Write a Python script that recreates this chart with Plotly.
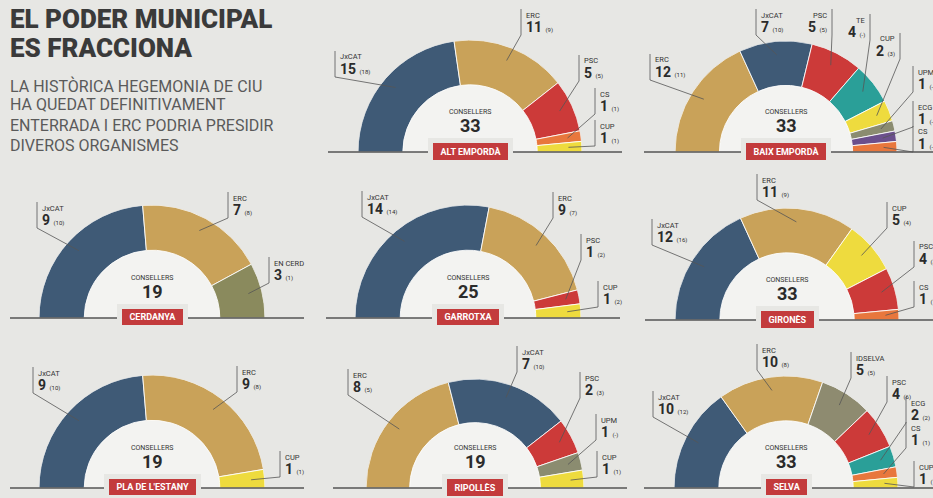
import numpy as np
import plotly.graph_objects as go

W, H = 933, 498

# ---------------- data ----------------
counties = ["ALT EMPORDÀ", "BAIX EMPORDÀ", "CERDANYA", "GARROTXA",
            "GIRONÈS", "PLA DE L'ESTANY", "RIPOLLÈS", "SELVA"]

alt_emporda_parties = ["JxCAT", "ERC", "PSC", "CS", "CUP"]
alt_emporda_seats = [15, 11, 5, 1, 1]
alt_emporda_prev = ["18", "9", "5", "1", "1"]

baix_emporda_parties = ["ERC", "JxCAT", "PSC", "TE", "CUP", "UPM", "ECG", "CS"]
baix_emporda_seats = [12, 7, 5, 4, 2, 1, 1, 1]
baix_emporda_prev = ["11", "10", "5", "-", "3", "-", "-", "-"]

cerdanya_parties = ["JxCAT", "ERC", "EN CERD"]
cerdanya_seats = [9, 7, 3]
cerdanya_prev = ["10", "8", "1"]

garrotxa_parties = ["JxCAT", "ERC", "PSC", "CUP"]
garrotxa_seats = [14, 9, 1, 1]
garrotxa_prev = ["14", "7", "2", "2"]

girones_parties = ["JxCAT", "ERC", "CUP", "PSC", "CS"]
girones_seats = [12, 11, 5, 4, 1]
girones_prev = ["16", "9", "4", "3", "1"]

pla_estany_parties = ["JxCAT", "ERC", "CUP"]
pla_estany_seats = [9, 9, 1]
pla_estany_prev = ["10", "8", "1"]

ripolles_parties = ["ERC", "JxCAT", "PSC", "UPM", "CUP"]
ripolles_seats = [8, 7, 2, 1, 1]
ripolles_prev = ["5", "10", "3", "-", "1"]

selva_parties = ["JxCAT", "ERC", "IDSELVA", "PSC", "ECG", "CS", "CUP"]
selva_seats = [10, 10, 5, 4, 2, 1, 1]
selva_prev = ["12", "8", "5", "6", "2", "1", "1"]

county_parties = [alt_emporda_parties, baix_emporda_parties, cerdanya_parties,
                  garrotxa_parties, girones_parties, pla_estany_parties,
                  ripolles_parties, selva_parties]
county_seats = [alt_emporda_seats, baix_emporda_seats, cerdanya_seats,
                garrotxa_seats, girones_seats, pla_estany_seats,
                ripolles_seats, selva_seats]
county_prev = [alt_emporda_prev, baix_emporda_prev, cerdanya_prev,
               garrotxa_prev, girones_prev, pla_estany_prev,
               ripolles_prev, selva_prev]

# ---------------- style ----------------
party_colors = {
    "JxCAT": "#3f5a76", "ERC": "#c9a259", "PSC": "#cc3a39", "CS": "#e8773d",
    "CUP": "#eedb3e", "TE": "#2a9f98", "UPM": "#8b8c70", "ECG": "#2a9f98",
    "EN CERD": "#8a8a5d", "IDSELVA": "#8e8b70",
}
color_overrides = {("BAIX EMPORDÀ", "ECG"): "#6b4f8c"}

BG = "#e7e7e4"
HOLE_BG = "#f3f3f1"
HOLE = 0.6
LINE_C = "#555555"
TXT_C = "#333333"
FONT = "Roboto"

# layout of each chart: centre x, baseline y, outer radius (pixels)
chart_cx = [470, 786, 152, 468, 787, 152, 475, 786]
chart_by = [152, 152, 318, 318, 320, 488, 488, 488]
chart_r = [112, 111, 113, 113, 112, 113, 109, 112]

# label placements (bracket x, name y, side) per party
label_pos = [
    [(335, 57, "L"), (521, 15, "L"), (579, 61, "L"), (595, 94, "L"), (595, 126, "L")],
    [(650, 60, "L"), (756, 15, "L"), (832, 15, "R"), (870, 20, "R"), (900, 39, "R"),
     (913, 72, "L"), (913, 107, "L"), (913, 132, "L")],
    [(37, 208, "L"), (228, 198, "L"), (269, 263, "L")],
    [(362, 197, "L"), (553, 198, "L"), (581, 240, "L"), (598, 287, "L")],
    [(652, 225, "L"), (757, 180, "L"), (887, 208, "L"), (914, 247, "L"), (914, 287, "L")],
    [(33, 373, "L"), (237, 372, "L"), (280, 457, "L")],
    [(348, 375, "L"), (517, 352, "L"), (580, 378, "L"), (596, 420, "L"), (597, 457, "L")],
    [(653, 397, "L"), (757, 350, "L"), (851, 358, "L"), (887, 382, "L"),
     (906, 403, "L"), (906, 428, "L"), (914, 467, "L")],
]


def px(x):
    return x / W


def py(y):
    return 1 - y / H


fig = go.Figure()
shapes = []
annotations = []

for i, county in enumerate(counties):
    parties = county_parties[i]
    seats = np.array(county_seats[i], dtype=float)
    prev = county_prev[i]
    cx, by, R = chart_cx[i], chart_by[i], chart_r[i]
    total = seats.sum()
    start = np.concatenate([[0], np.cumsum(seats)[:-1]])
    theta = (start + seats / 2) * 180.0 / total
    width = seats * 180.0 / total
    colors = [color_overrides.get((county, p), party_colors[p]) for p in parties]
    sub = "polar" if i == 0 else f"polar{i + 1}"

    fig.add_trace(go.Barpolar(
        theta=[90], r=[HOLE], base=[0], width=[180], subplot=sub,
        marker=dict(color=HOLE_BG, line=dict(width=0)),
        hoverinfo="skip", showlegend=False))
    fig.add_trace(go.Barpolar(
        theta=theta, r=[1 - HOLE] * len(seats), base=[HOLE] * len(seats),
        width=width, subplot=sub, text=parties,
        marker=dict(color=colors, line=dict(color="rgba(255,255,255,0.85)", width=1)),
        hovertemplate="%{text}: %{customdata}<extra></extra>",
        customdata=county_seats[i], showlegend=False))

    fig.update_layout({sub: dict(
        domain=dict(x=[px(cx - R), px(cx + R)], y=[py(by), py(by - R)]),
        sector=[0, 180], hole=0, bgcolor="rgba(0,0,0,0)", bargap=0,
        radialaxis=dict(visible=False, range=[0, 1]),
        angularaxis=dict(visible=False, direction="clockwise", rotation=180,
                         thetaunit="degrees"),
    )})

    # baseline
    shapes.append(dict(type="line", xref="paper", yref="paper",
                       x0=px(cx - 142), x1=px(min(cx + 152, W + 5)),
                       y0=py(by), y1=py(by), line=dict(color=LINE_C, width=1.5)))

    # centre texts
    annotations.append(dict(x=px(cx), y=py(by - 40), xref="paper", yref="paper",
                            xanchor="center", yanchor="middle",
                            text="CONSELLERS", showarrow=False,
                            font=dict(family=FONT, size=7, color=TXT_C)))
    annotations.append(dict(x=px(cx), y=py(by - 27), xref="paper", yref="paper",
                            xanchor="center", yanchor="middle",
                            text=f"<b>{int(total)}</b>", showarrow=False,
                            font=dict(family=FONT, size=18, color="#2b2b2b")))
    # county label box
    annotations.append(dict(x=px(cx), y=py(by - 1), xref="paper", yref="paper",
                            xanchor="center", yanchor="middle",
                            text=f"<b>&nbsp;&nbsp;{county}&nbsp;&nbsp;</b>",
                            showarrow=False, bgcolor="#c33b3c",
                            bordercolor=BG, borderwidth=5, borderpad=3,
                            font=dict(family=FONT, size=9, color="white")))

    # party labels and leader lines
    for j, p in enumerate(parties):
        bx, ny, side = label_pos[i][j]
        t = np.radians(theta[j])
        rt = 0.88 * R
        tipx = cx - rt * np.cos(t)
        tipy = by - rt * np.sin(t)
        shapes.append(dict(type="line", xref="paper", yref="paper",
                           x0=px(bx), x1=px(bx), y0=py(ny - 6), y1=py(ny + 20),
                           line=dict(color=LINE_C, width=0.8)))
        shapes.append(dict(type="line", xref="paper", yref="paper",
                           x0=px(bx), x1=px(tipx), y0=py(ny + 20), y1=py(tipy),
                           line=dict(color=LINE_C, width=0.8)))
        tx = bx + 3 if side == "L" else bx - 3
        xa = "left" if side == "L" else "right"
        annotations.append(dict(x=px(tx), y=py(ny), xref="paper", yref="paper",
                                xanchor=xa, yanchor="middle", text=p, showarrow=False,
                                font=dict(family=FONT, size=7.5, color=TXT_C)))
        annotations.append(dict(x=px(tx), y=py(ny + 12), xref="paper", yref="paper",
                                xanchor=xa, yanchor="middle",
                                text=f"<b>{int(seats[j])}</b> <span style='font-size:6px'>({prev[j]})</span>",
                                showarrow=False,
                                font=dict(family=FONT, size=14, color="#2b2b2b")))

# title and subtitle
title_lines = ["EL PODER MUNICIPAL", "ES FRACCIONA"]
title_y = [19, 48]
for t, y in zip(title_lines, title_y):
    annotations.append(dict(x=px(8), y=py(y), xref="paper", yref="paper",
                            xanchor="left", yanchor="middle", text=t,
                            showarrow=False,
                            font=dict(family=FONT, size=26, color="#3a3a3a",
                                      weight=900)))

subtitle_lines = ["LA HISTÒRICA HEGEMONIA DE CIU", "HA QUEDAT DEFINITIVAMENT",
                  "ENTERRADA I ERC PODRIA PRESIDIR", "DIVEROS ORGANISMES"]
subtitle_y = [86, 105, 125, 145]
for t, y in zip(subtitle_lines, subtitle_y):
    annotations.append(dict(x=px(8), y=py(y), xref="paper", yref="paper",
                            xanchor="left", yanchor="middle", text=t,
                            showarrow=False,
                            font=dict(family=FONT, size=16, color="#5a5a5a")))

fig.update_layout(
    width=W, height=H, margin=dict(l=0, r=0, t=0, b=0),
    paper_bgcolor=BG, plot_bgcolor=BG,
    shapes=shapes, annotations=annotations, showlegend=False,
)

fig.write_html("out.html", config={"displayModeBar": False},
               post_script="document.body.style.margin='0';document.body.style.overflow='hidden';")
